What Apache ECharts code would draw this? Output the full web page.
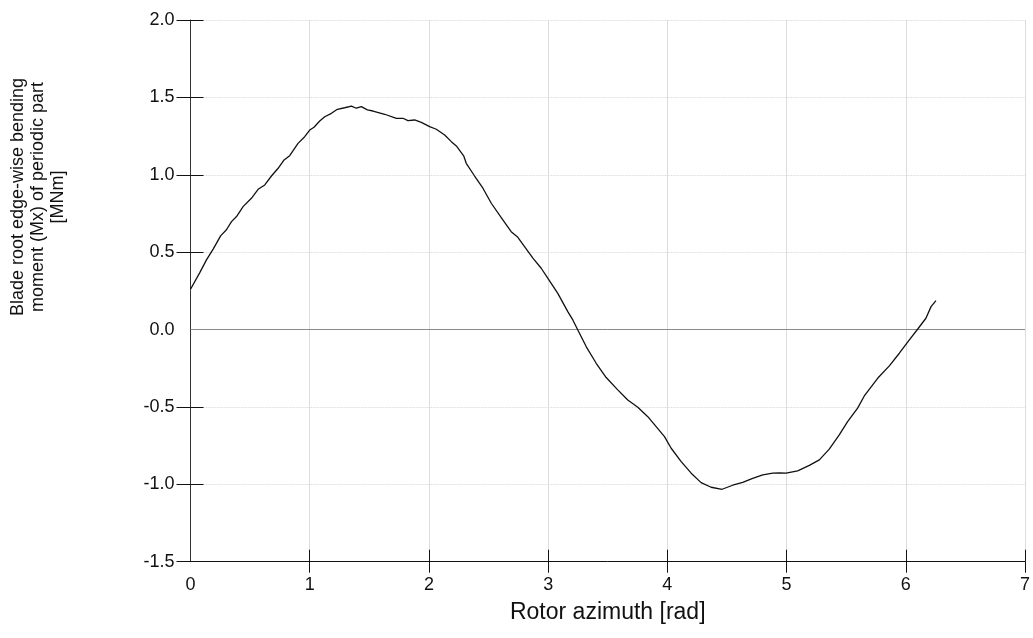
<!DOCTYPE html>
<html>
<head>
<meta charset="utf-8">
<script src="https://cdn.jsdelivr.net/npm/echarts@6/dist/echarts.min.js"></script>
<style>
html,body{margin:0;padding:0;background:#fff;}
#chart{width:1033px;height:638px;}
</style>
</head>
<body>
<div id="chart"></div>
<script>
// Rotor azimuth [rad]
const azimuth = [0.0, 0.078, 0.134, 0.19, 0.254, 0.30, 0.344, 0.386, 0.441, 0.511, 0.567, 0.623, 0.679, 0.735, 0.785, 0.832, 0.902, 0.958, 1.0, 1.036, 1.084, 1.126, 1.182, 1.232, 1.293, 1.35, 1.391, 1.433, 1.484, 1.531, 1.629, 1.727, 1.782, 1.824, 1.88, 1.936, 2.006, 2.062, 2.132, 2.188, 2.23, 2.293, 2.313, 2.383, 2.453, 2.523, 2.62, 2.69, 2.746, 2.802, 2.872, 2.942, 2.998, 3.081, 3.165, 3.207, 3.249, 3.319, 3.403, 3.487, 3.584, 3.668, 3.752, 3.836, 3.906, 3.976, 4.032, 4.116, 4.2, 4.283, 4.367, 4.459, 4.548, 4.632, 4.716, 4.8, 4.884, 4.94, 4.996, 5.093, 5.191, 5.275, 5.358, 5.442, 5.512, 5.596, 5.652, 5.764, 5.862, 5.946, 6.03, 6.099, 6.169, 6.212, 6.253];
// Blade root edge-wise bending moment (Mx), periodic part [MNm]
const moment = [0.26, 0.368, 0.45, 0.52, 0.607, 0.643, 0.697, 0.73, 0.794, 0.848, 0.906, 0.934, 0.992, 1.042, 1.096, 1.123, 1.203, 1.246, 1.289, 1.307, 1.347, 1.375, 1.397, 1.423, 1.433, 1.444, 1.43, 1.44, 1.419, 1.412, 1.391, 1.365, 1.365, 1.35, 1.354, 1.339, 1.311, 1.294, 1.257, 1.214, 1.186, 1.12, 1.074, 0.992, 0.913, 0.816, 0.708, 0.632, 0.596, 0.536, 0.461, 0.396, 0.331, 0.234, 0.116, 0.062, -0.003, -0.11, -0.218, -0.31, -0.39, -0.455, -0.502, -0.563, -0.627, -0.692, -0.767, -0.853, -0.928, -0.989, -1.019, -1.032, -1.006, -0.987, -0.961, -0.939, -0.928, -0.926, -0.928, -0.913, -0.878, -0.842, -0.773, -0.681, -0.595, -0.508, -0.429, -0.315, -0.235, -0.153, -0.067, 0.002, 0.073, 0.148, 0.187];
const xTicks = [1, 2, 3, 4, 5, 6, 7];
const yTicks = [-1.5, -1.0, -0.5, 0.5, 1.0, 1.5, 2.0];
const yTitle = 'Blade root edge-wise bending\nmoment (Mx) of periodic part\n[MNm]';
const xTitle = 'Rotor azimuth [rad]';

const points = azimuth.map((a, i) => [a, moment[i]]);
const font = 'Liberation Sans, Arial, sans-serif';

const chart = echarts.init(document.getElementById('chart'), null, {renderer: 'canvas'});
chart.setOption({
  animation: false,
  backgroundColor: '#fff',
  grid: {left: 190.5, right: 6, top: 20, bottom: 76.3, containLabel: false},
  xAxis: [{
    type: 'value', min: 0, max: 7, interval: 1,
    axisLine: {show: true, onZero: false, lineStyle: {color: '#111', width: 1}},
    axisTick: {show: true, inside: false, length: 11, customValues: xTicks, lineStyle: {color: '#111', width: 1}},
    axisLabel: {show: true, margin: 14, color: '#111', fontSize: 18, fontFamily: font},
    splitLine: {show: true, lineStyle: {color: '#dcdcdc', width: 1}},
    name: xTitle, nameLocation: 'middle', nameGap: 39,
    nameTextStyle: {color: '#111', fontSize: 23, fontFamily: font}
  }, {
    type: 'value', min: 0, max: 7, interval: 1, position: 'bottom',
    axisLine: {show: false, onZero: false},
    axisTick: {show: true, inside: true, length: 12, customValues: xTicks, lineStyle: {color: '#111', width: 1}},
    axisLabel: {show: false}, splitLine: {show: false}
  }],
  yAxis: [{
    type: 'value', min: -1.5, max: 2.0, interval: 0.5,
    axisLine: {show: true, onZero: false, lineStyle: {color: '#333', width: 1}},
    axisTick: {show: true, inside: false, length: 14, customValues: yTicks, lineStyle: {color: '#111', width: 1}},
    axisLabel: {show: true, margin: 16, color: '#111', fontSize: 18, fontFamily: font,
      formatter: v => v.toFixed(1)},
    splitLine: {show: true, lineStyle: {color: '#e0e0e0', width: 1, type: [2, 1]}}
  }, {
    type: 'value', min: -1.5, max: 2.0, interval: 0.5, position: 'left',
    axisLine: {show: false, onZero: false},
    axisTick: {show: true, inside: true, length: 13, customValues: yTicks, lineStyle: {color: '#111', width: 1}},
    axisLabel: {show: false}, splitLine: {show: false}
  }],
  graphic: [{
    type: 'text', x: 38, y: 197, rotation: Math.PI / 2,
    style: {text: yTitle, fill: '#111', font: '18px ' + font, lineHeight: 20,
      align: 'center', verticalAlign: 'middle'}
  }],
  series: [{
    type: 'line',
    xAxisIndex: 0, yAxisIndex: 0,
    data: points,
    showSymbol: false,
    smooth: false,
    lineStyle: {color: '#111', width: 1.3},
    markLine: {
      silent: true, symbol: ['none', 'none'], label: {show: false},
      lineStyle: {color: '#8a8a8a', width: 1, type: 'solid'},
      data: [{yAxis: 0}]
    },
    z: 5
  }]
});
</script>
</body>
</html>
